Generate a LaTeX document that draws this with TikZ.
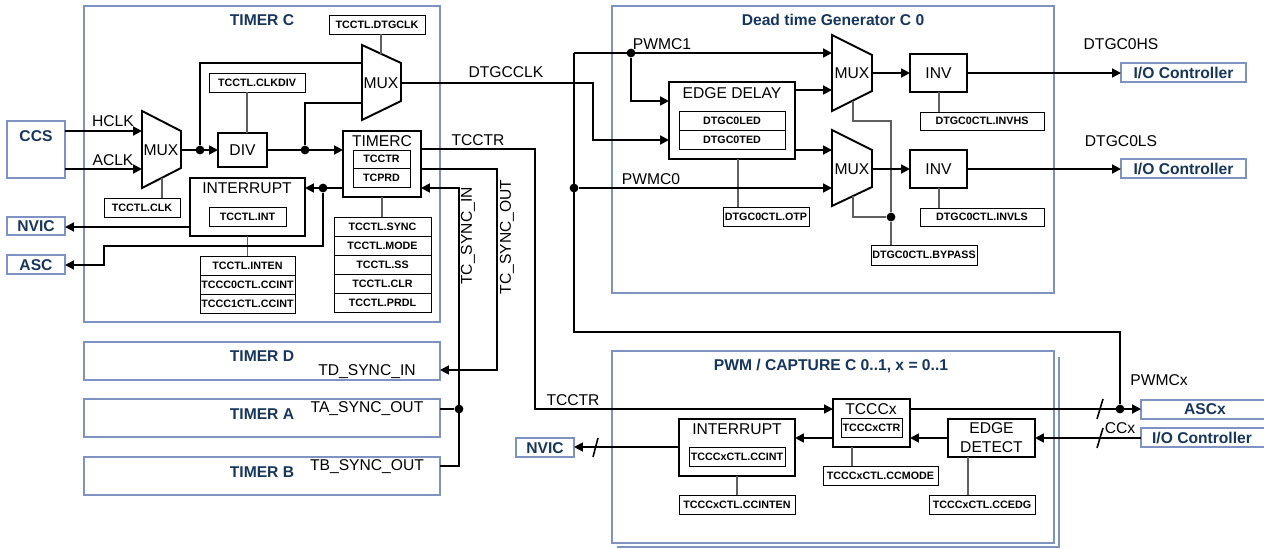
\documentclass[tikz,border=0pt]{standalone}
\usepackage{fontspec}
\setmainfont{Liberation Sans}
\usetikzlibrary{arrows.meta}
\definecolor{navy}{RGB}{23,54,93}
\definecolor{frame}{RGB}{127,146,196}
\definecolor{ctlgray}{RGB}{95,95,95}
\newcommand\lblfont{\fontsize{8.9}{10.8}\selectfont}
\newcommand\regfont{\fontsize{6.1}{7}\selectfont\bfseries}
\newcommand\ttlfont{\fontsize{8.9}{10.8}\selectfont\bfseries}
\newcommand\bx[7][]{\node[inner sep=0pt,outer sep=0pt,
  minimum width={(#5-#3)*0.02cm},minimum height={(#6-#4)*0.02cm},#1]
  (#2) at ({(#3+#5)/2},{(#4+#6)/2}) {#7};}
\begin{document}
\begin{tikzpicture}[x=0.02cm,y=-0.02cm,
 cont/.style={draw=frame,line width=1.1pt},
 blk/.style={draw,line width=1.1pt,font=\lblfont,text height=6.4pt,text depth=0pt},
 reg/.style={draw,line width=0.55pt,font=\regfont,text height=4.4pt,text depth=0pt},
 ext/.style={draw=frame,line width=1.1pt,text=navy,font=\ttlfont,text height=6.4pt,text depth=0pt},
 ttl/.style={text=navy,font=\ttlfont,inner sep=0pt},
 lbl/.style={font=\lblfont,inner sep=0pt},
 sig/.style={line width=1.1pt},
 arr/.style={sig,-{Triangle[length=5pt,width=5pt]}},
 ctl/.style={draw=ctlgray,line width=0.6pt},
 dot/.style={circle,fill,inner sep=0pt,minimum size=5pt},
 slash/.style={line width=0.9pt},
 muxs/.style={line width=1.1pt,fill=white}]
\useasboundingbox (0,0) rectangle (1264,548);

% ---------------- containers ----------------
\bx[cont]{timerc}{84}{6}{440}{322}{}
\node[ttl] (timercT) at (262,20) {TIMER C};
\bx[cont]{dtg}{612}{6}{1054}{293}{}
\node[ttl] (dtgT) at (833,20) {Dead time Generator C 0};
\draw[cont] (617,547) -- (1059,547) -- (1059,357);
\bx[cont,fill=white]{pwm}{612}{351}{1054}{543}{}
\node[ttl] (pwmT) at (831,366) {PWM / CAPTURE C 0..1, x = 0..1};
\bx[cont]{timerd}{84}{342}{440}{380}{}
\node[ttl] (timerdT) at (262,356) {TIMER D};
\node[lbl] (tdsi) at (367,372) {TD\_SYNC\_IN};
\bx[cont]{timera}{84}{399}{440}{437}{}
\node[ttl] (timeraT) at (262,414) {TIMER A};
\node[lbl] (taso) at (367,409) {TA\_SYNC\_OUT};
\bx[cont]{timerb}{84}{457}{440}{495}{}
\node[ttl] (timerbT) at (262,472) {TIMER B};
\node[lbl] (tbso) at (367,467) {TB\_SYNC\_OUT};

% ---------------- external boxes ----------------
\bx[ext]{ccs}{7}{121}{65}{178}{}
\node[ttl] (ccsT) at (36,136) {CCS};
\bx[ext]{nvic}{7}{217}{65}{235}{NVIC}
\bx[ext]{asc}{7}{255}{65}{274}{ASC}
\bx[ext]{io1}{1121}{63}{1246}{82}{I/O Controller}
\bx[ext]{io2}{1121}{159}{1246}{178}{I/O Controller}
\bx[ext]{nvic2}{516}{438}{574}{457}{NVIC}
\bx[ext]{ascx}{1141}{400}{1270}{419}{}
\node[ttl] (ascxT) at (1205,409) {ASCx};
\bx[ext]{io3}{1141}{428}{1270}{447}{}
\node[ttl] (io3T) at (1202,438) {I/O Controller};

% ---------------- timer C internals ----------------
\draw[muxs] (142,111) -- (181,131) -- (181,168) -- (142,188) -- cycle;
\node[lbl] (mux1) at (161,150) {MUX};
\coordinate (m1i1) at (142,131); \coordinate (m1i2) at (142,169);
\coordinate (m1o) at (181,150); \coordinate (m1s) at (162,177.7);

\draw[muxs] (362,45) -- (401,63) -- (401,101) -- (362,120) -- cycle;
\node[lbl] (mux2) at (381,83) {MUX};
\coordinate (m2i1) at (362,63); \coordinate (m2i2) at (362,103);
\coordinate (m2o) at (401,83); \coordinate (m2s) at (381,53.8);

\bx[reg]{rclk}{104}{198}{180}{217}{TCCTL.CLK}
\bx[reg]{rclkdiv}{209}{73}{305}{92}{TCCTL.CLKDIV}
\bx[reg]{rdtgclk}{329}{15}{425}{34}{TCCTL.DTGCLK}
\bx[blk]{div}{218}{133}{267}{167}{DIV}

\bx[blk]{tmc}{343}{131}{421}{197}{}
\node[lbl] (tmcT) at (382,141) {TIMERC};
\bx[reg]{rtcctr}{353}{150}{410}{168}{TCCTR}
\bx[reg]{rtcprd}{353}{168}{410}{187}{TCPRD}
\bx[reg]{rsync}{334}{217}{431}{236}{TCCTL.SYNC}
\bx[reg]{rmode}{334}{236}{431}{255}{TCCTL.MODE}
\bx[reg]{rss}{334}{255}{431}{274}{TCCTL.SS}
\bx[reg]{rclr}{334}{274}{431}{293}{TCCTL.CLR}
\bx[reg]{rprdl}{334}{293}{431}{312}{TCCTL.PRDL}

\bx[blk]{int1}{190}{178}{305}{236}{}
\node[lbl] (int1T) at (247,188.5) {INTERRUPT};
\bx[reg]{rint}{209}{207}{286}{226}{TCCTL.INT}
\bx[reg]{rinten}{200}{256}{295}{275}{TCCTL.INTEN}
\bx[reg]{rcc0}{200}{275}{295}{294}{TCCC0CTL.CCINT}
\bx[reg]{rcc1}{200}{294}{295}{313}{TCCC1CTL.CCINT}

% ---------------- DTG internals ----------------
\bx[blk]{ed}{669}{82}{795}{159}{}
\node[lbl] (edT) at (732,93) {EDGE DELAY};
\bx[reg]{rled}{679}{111}{785}{130}{DTGC0LED}
\bx[reg]{rted}{679}{130}{785}{149}{DTGC0TED}
\bx[reg]{rotp}{723}{207}{809}{226}{DTGC0CTL.OTP}

\draw[muxs] (832,35) -- (872,55) -- (872,91) -- (832,111) -- cycle;
\node[lbl] (muxa) at (852,73) {MUX};
\coordinate (maI1) at (832,53); \coordinate (maI2) at (832,90);
\coordinate (maO) at (872,73); \coordinate (maS) at (853,100.5);
\draw[muxs] (832,130) -- (872,150) -- (872,187) -- (832,206) -- cycle;
\node[lbl] (muxb) at (852,169) {MUX};
\coordinate (mbI1) at (832,150); \coordinate (mbI2) at (832,188);
\coordinate (mbO) at (872,169); \coordinate (mbS) at (853,195.5);

\bx[blk]{inva}{910}{54}{967}{92}{INV}
\bx[blk]{invb}{910}{150}{967}{188}{INV}
\bx[reg]{rinvhs}{920}{112}{1044}{130}{DTGC0CTL.INVHS}
\bx[reg]{rinvls}{920}{208}{1044}{226}{DTGC0CTL.INVLS}
\bx[reg]{rbyp}{871}{245}{977}{265}{DTGC0CTL.BYPASS}

% ---------------- PWM internals ----------------
\bx[blk]{tccx}{833}{399}{910}{447}{}
\node[lbl] (tccxT) at (871,409) {TCCCx};
\bx[reg]{rtccxctr}{841}{418}{902}{437}{TCCCxCTR}
\bx[reg]{rccmode}{823}{466}{938}{485}{TCCCxCTL.CCMODE}
\bx[blk]{int2}{679}{419}{795}{476}{}
\node[lbl] (int2T) at (737,429) {INTERRUPT};
\bx[reg]{rccint}{689}{447}{785}{466}{TCCCxCTL.CCINT}
\bx[reg]{rccinten}{679}{495}{795}{514}{TCCCxCTL.CCINTEN}
\bx[blk,align=center,text height=,text depth=]{edet}{948}{419}{1035}{457}{EDGE\\DETECT}
\bx[reg]{rccedg}{929}{495}{1035}{514}{TCCCxCTL.CCEDG}

% ---------------- dots ----------------
\node[dot] (d1) at (200,150) {};
\node[dot] (d2) at (305,150) {};
\node[dot] (d3) at (459,409) {};
\node[dot] (d4) at (323,188) {};
\node[dot] (d5) at (631,53) {};
\node[dot] (d6) at (574,188) {};
\node[dot] (d7) at (1120,409) {};
\node[dot] (d8) at (891,217) {};

% ---------------- control lines ----------------
\draw[ctl] (m1s) -- (rclk.north -| m1s);
\draw[ctl] (rclkdiv.south -| 247,0) -- (div.north -| 247,0);
\draw[ctl] (rdtgclk.south -| m2s) -- (m2s);
\draw[ctl] (tmc.south -| 382,0) -- (rsync.north -| 382,0);
\draw[ctl] (int1.south) -- (rinten.north);
\draw[ctl] (ed.south -| 738,0) -- (rotp.north -| 738,0);
\draw[ctl] (inva.south -| 939,0) -- (rinvhs.north -| 939,0);
\draw[ctl] (invb.south -| 939,0) -- (rinvls.north -| 939,0);
\draw[ctl] (maS) -- (853,121) -- (891,121) -- (d8);
\draw[ctl] (mbS) |- (d8);
\draw[ctl] (d8) -- (rbyp.north -| d8);
\draw[ctl] (tccx.south -| 852,0) -- (rccmode.north -| 852,0);
\draw[ctl] (int2.south) -- (rccinten.north);
\draw[ctl] (edet.south -| 968,0) -- (rccedg.north -| 968,0);

% ---------------- signals: timer C ----------------
\draw[arr] (ccs.east |- m1i1) -- (m1i1);
\draw[arr] (ccs.east |- m1i2) -- (m1i2);
\node[lbl] (hclk) at (113,121) {HCLK};
\node[lbl] (aclk) at (113,160) {ACLK};
\draw[arr] (m1o) -- (div.west);
\draw[sig] (d1) |- (m2i1);
\draw[arr] (div.east) -- (tmc.west |- div.east);
\draw[sig] (d2) |- (m2i2);
\draw[arr] (m2o) -- (593,83) |- (ed.west |- 0,140);
\node[lbl] (dtgcclk) at (506,72) {DTGCCLK};
\draw[arr] (tmc.east |- 0,149) -- (535,149) -- (535,409) -- (tccx.west |- 0,409);
\node[lbl] (tcctr1) at (478,140) {TCCTR};
\node[lbl] (tcctr2) at (573,400) {TCCTR};
\draw[arr] (tmc.east |- 0,169) -- (497,169) -- (497,370) -- (timerd.east |- 0,370);
\draw[arr] (timerb.east |- 0,466) -- (459,466) -- (459,188) -- (tmc.east |- 0,188);
\draw[sig] (timera.east |- d3) -- (d3);
\node[lbl,rotate=90] (tcsi) at (468,236) {TC\_SYNC\_IN};
\node[lbl,rotate=90] (tcso) at (507,237) {TC\_SYNC\_OUT};
\draw[arr] (tmc.west |- d4) -- (int1.east |- d4);
\draw[arr] (d4) -- (323,246) -- (104,246) -- (104,265) -- (asc.east |- 0,265);
\draw[arr] (int1.west |- 0,227) -- (nvic.east |- 0,227);

% ---------------- signals: DTG ----------------
\draw[sig] (d7) -- (1120,332) -- (574,332) -- (574,53);
\draw[arr] (574,53) -- (maI1);
\draw[arr] (d5) |- (ed.west |- 0,101);
\draw[arr] (d6) -- (mbI2);
\node[lbl] (pwmc1) at (662,44) {PWMC1};
\node[lbl] (pwmc0) at (651,179) {PWMC0};
\draw[arr] (ed.east |- maI2) -- (maI2);
\draw[arr] (ed.east |- mbI1) -- (mbI1);
\draw[arr] (maO) -- (inva.west |- maO);
\draw[arr] (mbO) -- (invb.west |- mbO);
\draw[arr] (inva.east |- maO) -- (io1.west |- maO);
\draw[arr] (invb.east |- mbO) -- (io2.west |- mbO);
\node[lbl] (hs) at (1121,44) {DTGC0HS};
\node[lbl] (ls) at (1121,141) {DTGC0LS};

% ---------------- signals: PWM ----------------
\draw[arr] (tccx.east |- 0,409) -- (ascx.west |- 0,409);
\draw[slash] (1097,419) -- (1103,399);
\node[lbl] (pwmcx) at (1159,380) {PWMCx};
\draw[arr] (io3.west |- 0,438) -- (edet.east |- 0,438);
\draw[slash] (1097,448) -- (1103,428);
\node[lbl] (ccx) at (1120,428) {CCx};
\draw[arr] (edet.west |- 0,438) -- (tccx.east |- 0,438);
\draw[arr] (tccx.west |- 0,438) -- (int2.east |- 0,438);
\draw[arr] (int2.west |- 0,447) -- (nvic2.east |- 0,447);
\draw[slash] (593,457) -- (598,438);
\end{tikzpicture}
\end{document}
